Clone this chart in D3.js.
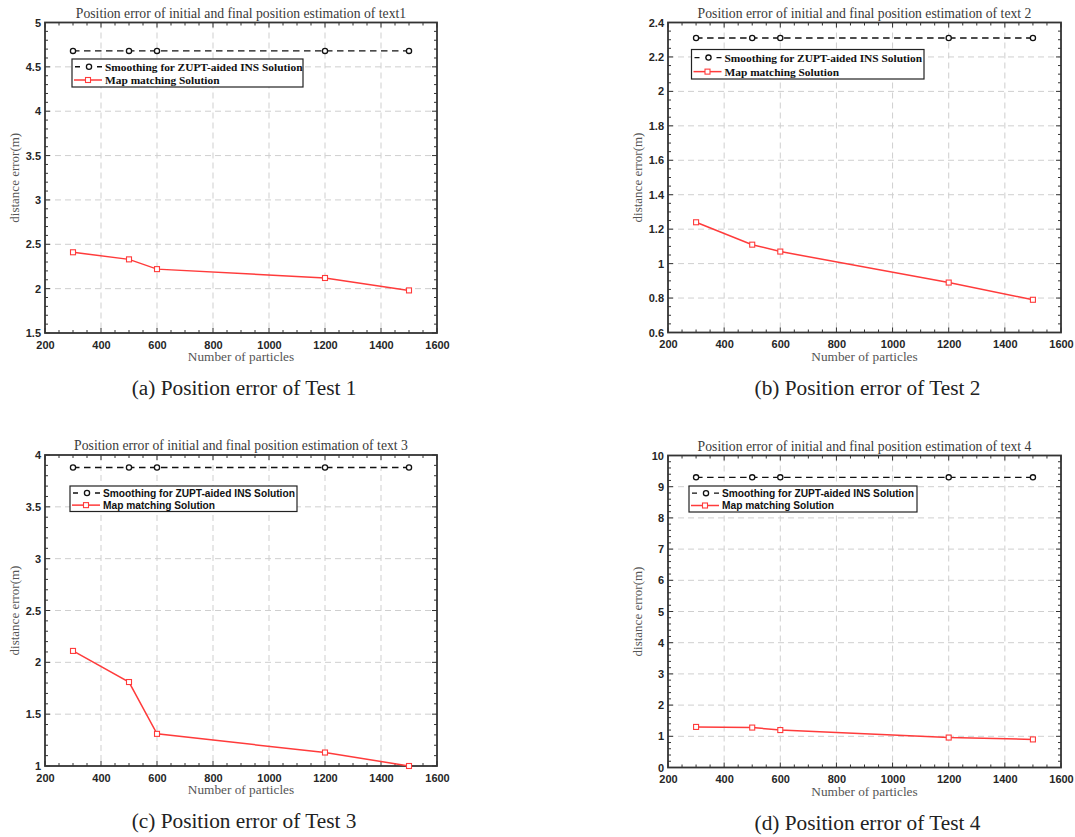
<!DOCTYPE html>
<html>
<head>
<meta charset="utf-8">
<script src="https://cdn.jsdelivr.net/npm/d3@7"></script>
<style>
  html, body { margin: 0; padding: 0; background: #fff; }
  svg { display: block; }
</style>
</head>
<body>
<svg id="chart" width="1075" height="837"></svg>
<script>
// Particle counts shared by all four tests
const particles = [300, 500, 600, 1200, 1500];

// Test 1
const smoothing1 = [4.68, 4.68, 4.68, 4.68, 4.68];
const mapMatch1  = [2.41, 2.33, 2.22, 2.12, 1.98];
const yTicks1 = [1.5, 2, 2.5, 3, 3.5, 4, 4.5, 5];

// Test 2
const smoothing2 = [2.31, 2.31, 2.31, 2.31, 2.31];
const mapMatch2  = [1.24, 1.11, 1.07, 0.89, 0.79];
const yTicks2 = [0.6, 0.8, 1, 1.2, 1.4, 1.6, 1.8, 2, 2.2, 2.4];

// Test 3
const smoothing3 = [3.88, 3.88, 3.88, 3.88, 3.88];
const mapMatch3  = [2.11, 1.81, 1.31, 1.13, 1.00];
const yTicks3 = [1, 1.5, 2, 2.5, 3, 3.5, 4];

// Test 4
const smoothing4 = [9.3, 9.3, 9.3, 9.3, 9.3];
const mapMatch4  = [1.30, 1.28, 1.20, 0.96, 0.90];
const yTicks4 = [0, 1, 2, 3, 4, 5, 6, 7, 8, 9, 10];

const xTicks = [200, 400, 600, 800, 1000, 1200, 1400, 1600];

const titles = [
  "Position error of initial and final position estimation of text1",
  "Position error of initial and final position estimation of text 2",
  "Position error of initial and final position estimation of text 3",
  "Position error of initial and final position estimation of text 4"
];
const captions = [
  "(a) Position error of Test 1",
  "(b) Position error of Test 2",
  "(c) Position error of Test 3",
  "(d) Position error of Test 4"
];
const legendLabels = ["Smoothing for ZUPT-aided INS Solution", "Map matching Solution"];
const xLabel = "Number of particles";
const yLabel = "distance error(m)";

const svg = d3.select("#chart");

const serif = "'Liberation Serif', 'Times New Roman', serif";
const sans = "'Liberation Sans', Arial, sans-serif";

const panels = [
  { box: [45, 22.5, 437, 333], yDomain: [1.5, 5], yTicks: yTicks1, yMinor: 0.1,
    s: smoothing1, m: mapMatch1, legend: [72, 59, 303, 87], legendFont: serif, legendSize: 11.4 },
  { box: [668, 22.5, 1061, 332.5], yDomain: [0.6, 2.4], yTicks: yTicks2, yMinor: 0.05,
    s: smoothing2, m: mapMatch2, legend: [691.5, 49.5, 924, 79], legendFont: serif, legendSize: 11.4 },
  { box: [45, 455, 437, 766], yDomain: [1, 4], yTicks: yTicks3, yMinor: 0.1,
    s: smoothing3, m: mapMatch3, legend: [70, 486, 297, 511.5], legendFont: sans, legendSize: 10.2 },
  { box: [668, 455.5, 1061, 767.5], yDomain: [0, 10], yTicks: yTicks4, yMinor: 0.2,
    s: smoothing4, m: mapMatch4, legend: [689, 486, 917, 512], legendFont: sans, legendSize: 10.2 }
];

const axisColor = "#333";
const red = "#ff3b3b";

panels.forEach((p, i) => {
  const [x0, y0, x1, y1] = p.box;
  const g = svg.append("g");
  const x = d3.scaleLinear().domain([200, 1600]).range([x0, x1]);
  const y = d3.scaleLinear().domain(p.yDomain).range([y1, y0]);

  // dashed grid at major ticks
  g.selectAll(".gx").data(xTicks.slice(1, -1)).join("line")
    .attr("x1", d => x(d)).attr("x2", d => x(d))
    .attr("y1", y0).attr("y2", y1)
    .attr("stroke", "#cfcfcf").attr("stroke-width", 1).attr("stroke-dasharray", "6,4");
  g.selectAll(".gy").data(p.yTicks.slice(1, -1)).join("line")
    .attr("x1", x0).attr("x2", x1)
    .attr("y1", d => y(d)).attr("y2", d => y(d))
    .attr("stroke", "#cfcfcf").attr("stroke-width", 1).attr("stroke-dasharray", "6,4");

  // inward ticks on all four sides
  const xMinor = d3.range(200, 1600.001, 50);
  const yMinor = d3.range(p.yDomain[0], p.yDomain[1] + 1e-9, p.yMinor);
  const tickG = g.append("g").attr("stroke", axisColor).attr("stroke-width", 1);
  xMinor.forEach(v => {
    const major = xTicks.some(t => Math.abs(t - v) < 1e-6);
    const len = major ? 5 : 3;
    tickG.append("line").attr("x1", x(v)).attr("x2", x(v)).attr("y1", y1).attr("y2", y1 - len);
    tickG.append("line").attr("x1", x(v)).attr("x2", x(v)).attr("y1", y0).attr("y2", y0 + len);
  });
  yMinor.forEach(v => {
    const major = p.yTicks.some(t => Math.abs(t - v) < 1e-6);
    const len = major ? 5 : 3;
    tickG.append("line").attr("x1", x0).attr("x2", x0 + len).attr("y1", y(v)).attr("y2", y(v));
    tickG.append("line").attr("x1", x1).attr("x2", x1 - len).attr("y1", y(v)).attr("y2", y(v));
  });

  // axes (labels only; tick marks drawn above)
  const xAxis = d3.axisBottom(x).tickValues(xTicks).tickSize(0).tickPadding(8).tickFormat(d3.format("d"));
  const yAxis = d3.axisLeft(y).tickValues(p.yTicks).tickSize(0).tickPadding(4).tickFormat(d => String(+d.toFixed(2)));
  const gx = g.append("g").attr("transform", `translate(0,${y1})`).call(xAxis);
  const gy = g.append("g").attr("transform", `translate(${x0},0)`).call(yAxis);
  [gx, gy].forEach(a => {
    a.select(".domain").remove();
    a.selectAll("text")
      .attr("font-family", sans)
      .attr("font-weight", "bold").attr("font-size", 11).attr("fill", "#262626");
  });

  // frame
  g.append("rect").attr("x", x0).attr("y", y0).attr("width", x1 - x0).attr("height", y1 - y0)
    .attr("fill", "none").attr("stroke", axisColor).attr("stroke-width", 1.8);

  // series
  const line = d3.line().x((d, k) => x(particles[k])).y(d => y(d));
  g.append("path").datum(p.s).attr("d", line)
    .attr("fill", "none").attr("stroke", "#111").attr("stroke-width", 1.4).attr("stroke-dasharray", "6.5,4.5");
  g.selectAll(".cs").data(p.s).join("circle")
    .attr("cx", (d, k) => x(particles[k])).attr("cy", d => y(d)).attr("r", 2.6)
    .attr("fill", "#fff").attr("stroke", "#111").attr("stroke-width", 1.3);

  g.append("path").datum(p.m).attr("d", line)
    .attr("fill", "none").attr("stroke", red).attr("stroke-width", 1.5);
  g.selectAll(".sq").data(p.m).join("rect")
    .attr("x", (d, k) => x(particles[k]) - 2.5).attr("y", d => y(d) - 2.5)
    .attr("width", 5).attr("height", 5)
    .attr("fill", "#fff").attr("stroke", red).attr("stroke-width", 1.1);

  // title
  g.append("text").attr("x", (x0 + x1) / 2).attr("y", y0 - 5)
    .attr("text-anchor", "middle")
    .attr("font-family", serif)
    .attr("font-size", 13.7).attr("fill", "#3a3a3a").text(titles[i]);

  // axis titles
  g.append("text").attr("x", (x0 + x1) / 2).attr("y", y1 + 28)
    .attr("text-anchor", "middle")
    .attr("font-family", serif)
    .attr("font-size", 13.3).attr("fill", "#555").text(xLabel);
  g.append("text")
    .attr("transform", `translate(${x0 - 26},${(y0 + y1) / 2}) rotate(-90)`)
    .attr("text-anchor", "middle")
    .attr("font-family", serif)
    .attr("font-size", 13).attr("fill", "#555").text(yLabel);

  // legend
  const [lx0, ly0, lx1, ly1] = p.legend;
  const lg = g.append("g");
  lg.append("rect").attr("x", lx0).attr("y", ly0).attr("width", lx1 - lx0).attr("height", ly1 - ly0)
    .attr("fill", "#fff").attr("stroke", "#222").attr("stroke-width", 1.2);
  const rowH = (ly1 - ly0) / 2;
  const r1 = ly0 + rowH * 0.55, r2 = ly0 + rowH * 1.5;
  lg.append("line").attr("x1", lx0 + 3).attr("x2", lx0 + 30).attr("y1", r1).attr("y2", r1)
    .attr("stroke", "#111").attr("stroke-width", 1.4).attr("stroke-dasharray", "5,6");
  lg.append("circle").attr("cx", lx0 + 17).attr("cy", r1).attr("r", 2.6)
    .attr("fill", "#fff").attr("stroke", "#111").attr("stroke-width", 1.3);
  lg.append("line").attr("x1", lx0 + 2).attr("x2", lx0 + 30).attr("y1", r2).attr("y2", r2)
    .attr("stroke", red).attr("stroke-width", 1.5);
  lg.append("rect").attr("x", lx0 + 13.5).attr("y", r2 - 2.5).attr("width", 5).attr("height", 5)
    .attr("fill", "#fff").attr("stroke", red).attr("stroke-width", 1.1);
  [r1, r2].forEach((ry, k) => {
    lg.append("text").attr("x", lx0 + 33).attr("y", ry).attr("dy", "0.35em")
      .attr("font-family", p.legendFont).attr("font-weight", "bold")
      .attr("font-size", p.legendSize).attr("fill", "#111").text(legendLabels[k]);
  });

  // caption
  svg.append("text").attr("x", (x0 + x1) / 2 + 3).attr("y", y1 + 62)
    .attr("text-anchor", "middle")
    .attr("font-family", serif)
    .attr("font-size", 21.3).attr("fill", "#222").text(captions[i]);
});
</script>
</body>
</html>
